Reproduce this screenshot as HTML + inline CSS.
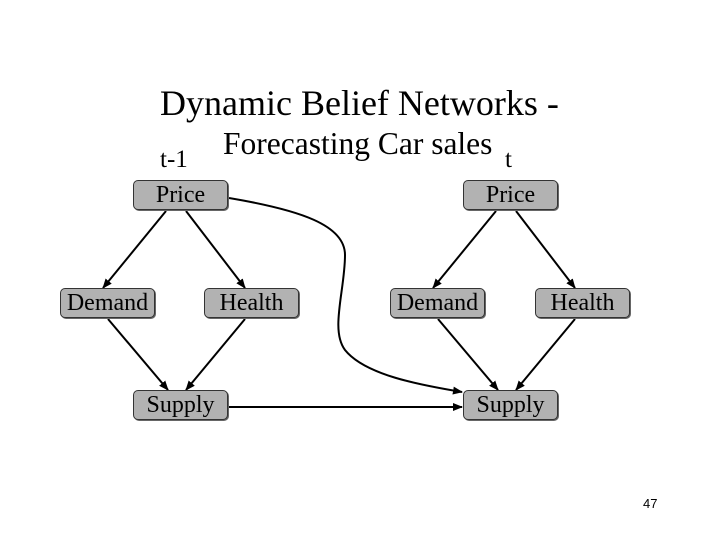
<!DOCTYPE html>
<html><head><style>
body{margin:0;width:720px;height:540px;background:#fff;position:relative;overflow:hidden;font-family:"Liberation Serif",serif;}
.t{position:absolute;color:#000;white-space:nowrap}
.b{position:absolute;width:95px;height:30px;background:#b2b2b2;border:1px solid #333;border-radius:5px;box-sizing:border-box;font-size:24px;text-align:center;line-height:28px;box-shadow:1px 1px 0 #666}
</style></head><body>
<div class="t" style="left:160px;top:82px;font-size:36px">Dynamic Belief Networks -</div>
<div class="t" style="left:223px;top:126px;font-size:31.5px">Forecasting Car sales</div>
<div class="t" style="left:160px;top:146px;font-size:25px">t-1</div>
<div class="t" style="left:505px;top:146px;font-size:25px">t</div>
<svg width="720" height="540" style="position:absolute;left:0;top:0">
<defs><marker id="a" markerWidth="10" markerHeight="8" refX="9" refY="4" orient="auto" markerUnits="userSpaceOnUse"><path d="M0,0L10,4L0,8z" fill="#000"/></marker></defs>
<g stroke="#000" stroke-width="2" fill="none" marker-end="url(#a)">
<line x1="166" y1="211" x2="103" y2="288"/>
<line x1="186" y1="211" x2="245" y2="288"/>
<line x1="108" y1="319" x2="168" y2="390"/>
<line x1="245" y1="319" x2="186" y2="390"/>
<line x1="496" y1="211" x2="433" y2="288"/>
<line x1="516" y1="211" x2="575" y2="288"/>
<line x1="438" y1="319" x2="498" y2="390"/>
<line x1="575" y1="319" x2="516" y2="390"/>
<line x1="229" y1="407" x2="462" y2="407"/>
<path d="M229,198 C300,210 345,225 345,255 C345,290 330,330 345,350 C365,375 420,385 462,392"/>
</g></svg>
<div class="b" style="left:133px;top:180px">Price</div>
<div class="b" style="left:60px;top:288px">Demand</div>
<div class="b" style="left:204px;top:288px">Health</div>
<div class="b" style="left:133px;top:390px">Supply</div>
<div class="b" style="left:463px;top:180px">Price</div>
<div class="b" style="left:390px;top:288px">Demand</div>
<div class="b" style="left:535px;top:288px">Health</div>
<div class="b" style="left:463px;top:390px">Supply</div>
<div class="t" style="left:643px;top:496px;font-size:13px;font-family:'Liberation Sans',sans-serif">47</div>
</body></html>
